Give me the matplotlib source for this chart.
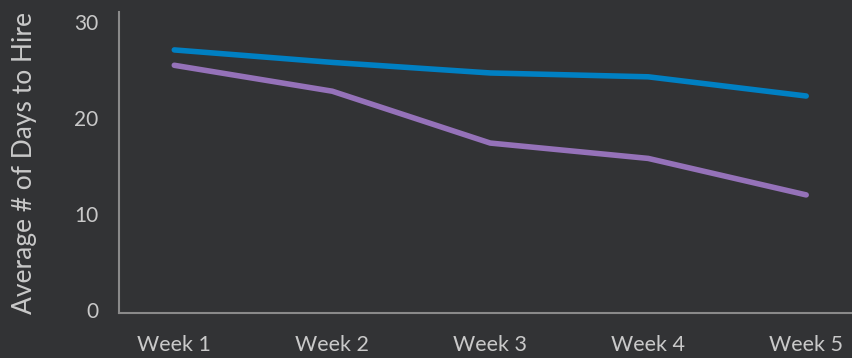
import matplotlib
matplotlib.use("Agg")
import matplotlib.pyplot as plt

weeks = ["Week 1", "Week 2", "Week 3", "Week 4", "Week 5"]
series_blue = [27.1, 25.8, 24.7, 24.3, 22.3]
series_purple = [25.5, 22.8, 17.4, 15.8, 12.0]
yticks = [0, 10, 20, 30]

bg = "#323335"
txt = "#c9c9c9"
spine = "#8a8a8a"

plt.rcParams['font.family'] = ['Lato', 'DejaVu Sans']

fig = plt.figure(figsize=(8.52, 3.58), dpi=100, facecolor=bg)
ax = fig.add_axes([119/852, 1-313/358, 1-119/852, (313-12)/358])
ax.set_facecolor(bg)

x = list(range(len(weeks)))
ax.plot(x, series_blue, color="#0080c3", lw=4, solid_capstyle="round", solid_joinstyle="round")
ax.plot(x, series_purple, color="#9572b9", lw=4, solid_capstyle="round", solid_joinstyle="round")

ax.set_xlim(-0.35, 4.29)
ax.set_ylim(-0.3, 31.05)
ax.set_xticks(x)
ax.set_xticklabels(weeks)
ax.set_yticks(yticks)
ax.tick_params(axis='x', length=0, pad=16, labelsize=15.5, colors=txt)
ax.tick_params(axis='y', length=0, pad=15, labelsize=15, colors=txt)
for s in ["top", "right"]:
    ax.spines[s].set_visible(False)
for s in ["left", "bottom"]:
    ax.spines[s].set_color(spine)
    ax.spines[s].set_linewidth(1.5)
ax.set_ylabel("Average # of Days to Hire", color=txt, fontsize=19)
ax.yaxis.set_label_coords((37 - 119) / 733, 0.5)

fig.savefig("out.png", dpi=100, facecolor=bg)
